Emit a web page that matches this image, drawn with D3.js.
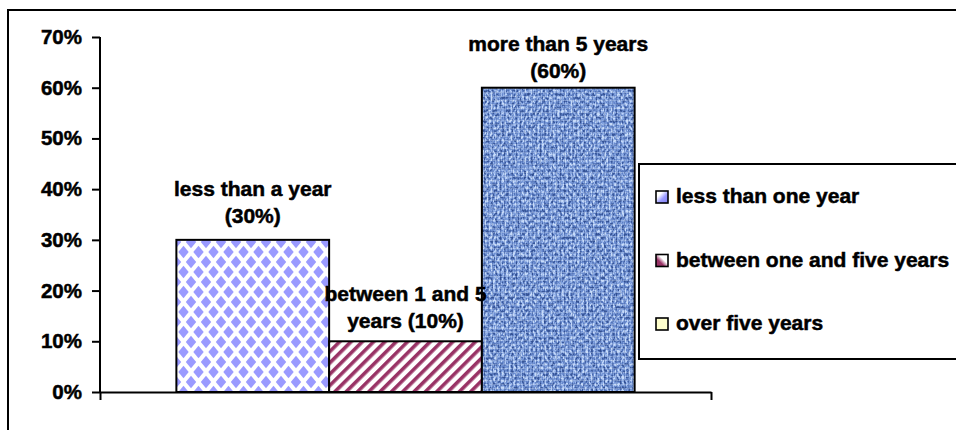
<!DOCTYPE html>
<html>
<head>
<meta charset="utf-8">
<script src="https://cdn.jsdelivr.net/npm/d3@7"></script>
<style>
  html, body { margin: 0; padding: 0; background: #fff; }
  svg { display: block; }
  text { font-family: "Liberation Sans", Arial, sans-serif; font-weight: bold; fill: #000; stroke: #000; stroke-width: 0.5px; }
</style>
</head>
<body>
<svg id="chart" width="956" height="430"></svg>
<script>
// Length of time series
const seriesNames = ["less than one year", "between one and five years", "over five years"];
const shares = [0.30, 0.10, 0.60];
const labelHeads = ["less than a year", "between 1 and 5", "more than 5 years"];
const labelTails = ["", "years", ""];
const yTicks = [0, 0.1, 0.2, 0.3, 0.4, 0.5, 0.6, 0.7];

const svg = d3.select("#chart");
const W = 956, H = 430;
const plot = { left: 100, right: 711, top: 37, bottom: 392 };

svg.append("rect").attr("width", W).attr("height", H).attr("fill", "#fff");

// ---------- fills ----------
const defs = svg.append("defs");

// blue diamond lattice
const tw = 15, th = 20, hw = 5.2, hh = 6.2;
const dia = defs.append("pattern").attr("id", "diamonds")
  .attr("patternUnits", "userSpaceOnUse").attr("width", tw).attr("height", th)
  .attr("x", 176).attr("y", 2);
dia.append("rect").attr("width", tw).attr("height", th).attr("fill", "#fff");
[[tw / 2, th / 2], [0, 0], [tw, 0], [0, th], [tw, th]].forEach(([cx, cy]) => {
  dia.append("path")
    .attr("d", `M${cx},${cy - hh}L${cx + hw},${cy}L${cx},${cy + hh}L${cx - hw},${cy}Z`)
    .attr("fill", "#9a9aff");
});

// maroon upward diagonal stripes
const str = defs.append("pattern").attr("id", "stripes")
  .attr("patternUnits", "userSpaceOnUse").attr("width", 8).attr("height", 8)
  .attr("patternTransform", "rotate(45)");
str.append("rect").attr("width", 8).attr("height", 8).attr("fill", "#fff");
str.append("rect").attr("width", 3.6).attr("height", 8).attr("fill", "#993366");

// woven blue cloth
const weave = defs.append("filter").attr("id", "weave")
  .attr("x", 0).attr("y", 0).attr("width", 1).attr("height", 1)
  .attr("color-interpolation-filters", "sRGB");
weave.append("feTurbulence").attr("type", "fractalNoise")
  .attr("baseFrequency", "0.45 0.3").attr("numOctaves", 2).attr("seed", 11).attr("result", "noise");
weave.append("feColorMatrix").attr("in", "noise").attr("type", "matrix")
  .attr("values", "2.4 0 0 0 -0.7  2.4 0 0 0 -0.7  2.4 0 0 0 -0.7  0 0 0 0 1").attr("result", "gray");
const ct = weave.append("feComponentTransfer").attr("in", "gray").attr("result", "tint");
ct.append("feFuncR").attr("type", "table").attr("tableValues", "0.22 0.32 0.40 0.47 0.56 0.67 0.78");
ct.append("feFuncG").attr("type", "table").attr("tableValues", "0.34 0.45 0.53 0.60 0.68 0.77 0.86");
ct.append("feFuncB").attr("type", "table").attr("tableValues", "0.60 0.72 0.80 0.85 0.90 0.95 0.98");
weave.append("feComposite").attr("in", "tint").attr("in2", "SourceGraphic").attr("operator", "in");

const grid = defs.append("pattern").attr("id", "threads")
  .attr("patternUnits", "userSpaceOnUse").attr("width", 4).attr("height", 4);
grid.append("rect").attr("x", 0).attr("y", 0).attr("width", 4).attr("height", 1).attr("fill", "#d4e2f8").attr("opacity", 0.3);
grid.append("rect").attr("x", 0).attr("y", 0).attr("width", 1).attr("height", 4).attr("fill", "#1c3876").attr("opacity", 0.25);

// legend swatch shades
const g1 = defs.append("linearGradient").attr("id", "sw1")
  .attr("x1", 0).attr("y1", 0).attr("x2", 1).attr("y2", 1);
g1.append("stop").attr("offset", 0.3).attr("stop-color", "#fff");
g1.append("stop").attr("offset", 0.6).attr("stop-color", "#9a9aff");
g1.append("stop").attr("offset", 1).attr("stop-color", "#8080f0");
const g2 = defs.append("linearGradient").attr("id", "sw2")
  .attr("x1", 0).attr("y1", 1).attr("x2", 1).attr("y2", 0);
g2.append("stop").attr("offset", 0.35).attr("stop-color", "#993366");
g2.append("stop").attr("offset", 0.6).attr("stop-color", "#fff");

const barFills = ["url(#diamonds)", "url(#stripes)", "#6889c8"];
const swatchFills = ["url(#sw1)", "url(#sw2)", "#ffffcc"];

// ---------- chart frame ----------
svg.append("rect").attr("x", 8).attr("y", 10).attr("width", 1000).attr("height", 500)
  .attr("fill", "none").attr("stroke", "#000").attr("stroke-width", 2);

// ---------- scales ----------
const x = d3.scaleBand().domain(seriesNames).range([plot.left, plot.right])
  .paddingInner(0).paddingOuter(0.5);
const y = d3.scaleLinear().domain([0, 0.7]).range([plot.bottom, plot.top]);
const pct = d3.format(".0%");

// ---------- bars ----------
const bars = svg.append("g");
seriesNames.forEach((name, i) => {
  const bx = x(name), bw = x.bandwidth(), by = y(shares[i]), bh = y(0) - y(shares[i]);
  bars.append("rect").attr("x", bx).attr("y", by).attr("width", bw).attr("height", bh)
    .attr("fill", barFills[i]);
  if (i === 2) {
    bars.append("rect").attr("x", bx).attr("y", by).attr("width", bw).attr("height", bh)
      .attr("fill", "#000").attr("filter", "url(#weave)");
    bars.append("rect").attr("x", bx).attr("y", by).attr("width", bw).attr("height", bh)
      .attr("fill", "url(#threads)");
  }
  bars.append("rect").attr("x", bx).attr("y", by).attr("width", bw).attr("height", bh)
    .attr("fill", "none").attr("stroke", "#000").attr("stroke-width", 2);
});

// ---------- axes ----------
const yAxis = svg.append("g").attr("transform", `translate(${plot.left},0)`)
  .call(d3.axisLeft(y).tickValues(yTicks).tickFormat(pct).tickSize(8).tickPadding(10));
yAxis.select(".domain").attr("stroke", "#000").attr("stroke-width", 2).attr("d", `M0,${plot.top}V${plot.bottom}`);
yAxis.selectAll(".tick line").attr("stroke", "#000").attr("stroke-width", 2);
yAxis.selectAll(".tick text").style("font-size", "20.5px").style("font-family", "Liberation Sans, Arial, sans-serif")
  .style("font-weight", "bold").attr("fill", "#000");

const xEdge = d3.scaleLinear().domain([0, 1]).range([plot.left, plot.right]);
const xAxis = svg.append("g").attr("transform", `translate(0,${plot.bottom})`)
  .call(d3.axisBottom(xEdge).tickValues([0, 1]).tickFormat("").tickSize(8).tickSizeOuter(0));
xAxis.select(".domain").attr("stroke", "#000").attr("stroke-width", 2);
xAxis.selectAll(".tick line").attr("stroke", "#000").attr("stroke-width", 2);

// ---------- data labels ----------
const labelGap = [17, 13, 10];
const lineStep = 27;
seriesNames.forEach((name, i) => {
  const cx = x(name) + x.bandwidth() / 2;
  const base = y(shares[i]) - labelGap[i];
  const second = (labelTails[i] ? labelTails[i] + " " : "") + "(" + pct(shares[i]) + ")";
  const t = svg.append("text").attr("text-anchor", "middle").style("font-size", "21px");
  t.append("tspan").attr("x", cx).attr("y", base - lineStep).text(labelHeads[i]);
  t.append("tspan").attr("x", cx).attr("y", base).text(second);
});

// ---------- legend ----------
const legend = svg.append("g");
legend.append("rect").attr("x", 639).attr("y", 164).attr("width", 400).attr("height", 195)
  .attr("fill", "#fff").attr("stroke", "#000").attr("stroke-width", 2);
seriesNames.forEach((name, i) => {
  const base = 203 + i * 63.5;
  legend.append("rect").attr("x", 656).attr("y", base - 12).attr("width", 12).attr("height", 12)
    .attr("fill", swatchFills[i]).attr("stroke", "#000").attr("stroke-width", 1.6);
  legend.append("text").attr("x", 676).attr("y", base).style("font-size", "21px").text(name);
});
</script>
</body>
</html>
